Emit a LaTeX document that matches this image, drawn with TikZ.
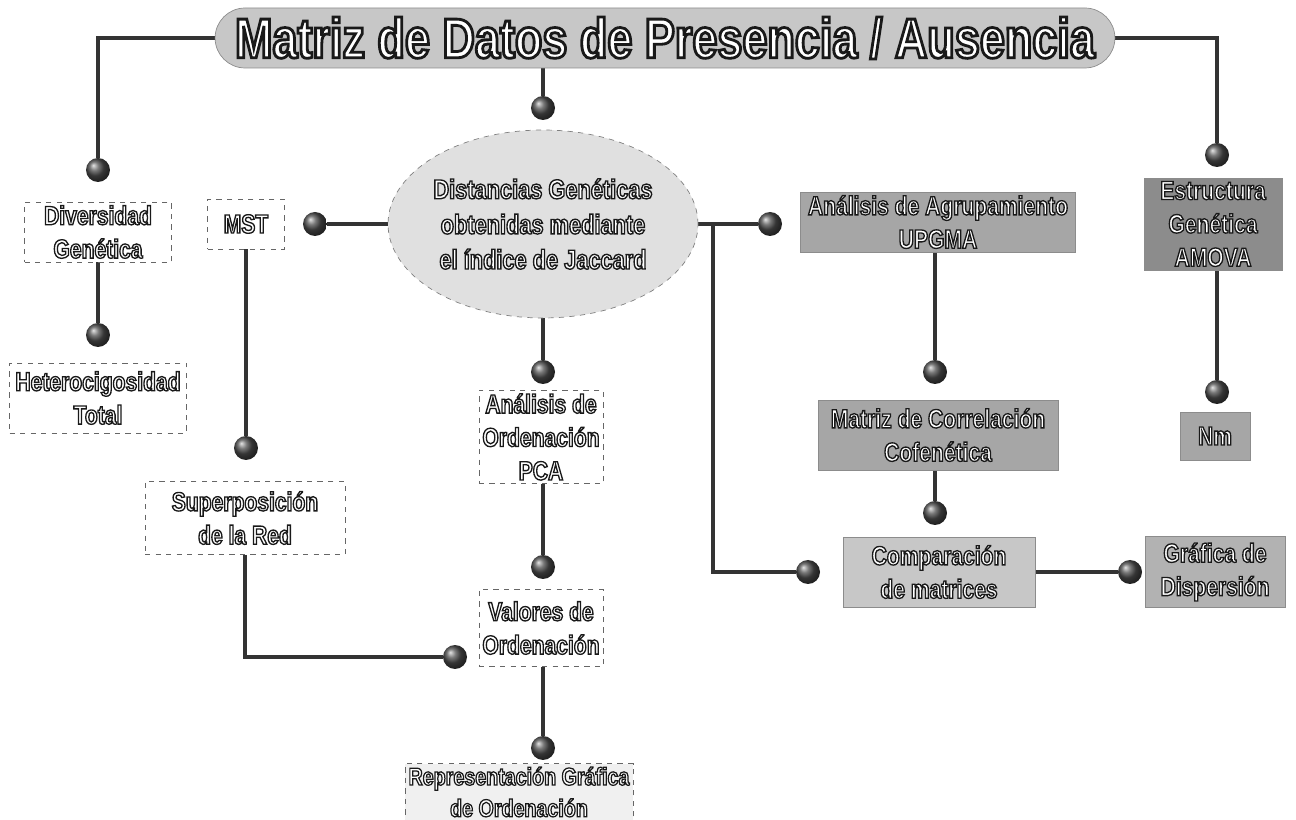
\documentclass[tikz,border=0pt]{standalone}
\usepackage{fontspec}
\setmainfont{Liberation Sans}[FakeStretch=0.8]
\newfontfamily\olfont{Liberation Sans Bold}[FakeStretch=0.8, FakeBold=5]
\usetikzlibrary{shapes.geometric,backgrounds}

% white letters with a dark rim: stroke colour set apart from the fill
\newcommand{\olt}{\special{pdf:code 0.1 G}}

\tikzset{
  boxwhite/.style={draw=black!60, dashed, fill=white, text=white, align=center, inner sep=2pt,
    font=\olfont\fontsize{15}{19}\selectfont},
  boxgray/.style={draw=black!45, fill=black!#1, text=white, align=center, inner sep=2pt,
    font=\olfont\fontsize{15}{19}\selectfont},
  ball/.style={circle, inner sep=0pt, minimum size=0.48cm, shading=ball, ball color=black!70},
  link/.style={line width=2.8pt, draw=black!80}
}

\begin{document}
\begin{tikzpicture}[x=0.02cm,y=-0.02cm]
\useasboundingbox (0,0) rectangle (1296,820);

% top row
\node[boxgray=22, rounded corners=0.6cm, minimum width=18cm, minimum height=1.2cm,
  font=\olfont\fontsize{32}{34}\selectfont] (title) at (665,38)
  {\olt Matriz de Datos de Presencia / Ausencia};

% left branch
\node[boxwhite, minimum width=2.94cm, minimum height=1.1cm] (div) at (98,232)
  {\olt Diversidad\\\olt Genética};
\node[boxwhite, minimum width=3.54cm, minimum height=1.4cm] (het) at (98,398)
  {\olt Heterocigosidad\\\olt Total};
\node[boxwhite, minimum width=1.54cm, minimum height=1.0cm] (mst) at (246,224) {\olt MST};
\node[boxwhite, minimum width=4.0cm, minimum height=1.46cm] (sup) at (245,518)
  {\olt Superposición\\\olt de la Red};

% centre column
\node[ellipse, draw=black!50, dashed, fill=black!12, text=white, align=center,
  minimum width=5.84cm, minimum height=3.76cm, inner sep=0pt,
  font=\olfont\fontsize{15.5}{20}\selectfont] (dist) at (543,224)
  {\olt Distancias Genéticas\\\olt obtenidas mediante\\\olt el índice de Jaccard};
\node[boxwhite, minimum width=2.36cm, minimum height=1.74cm] (pca) at (541,437)
  {\olt Análisis de\\\olt Ordenación\\\olt PCA};
\node[boxwhite, minimum width=2.36cm, minimum height=1.54cm] (val) at (541,628)
  {\olt Valores de\\\olt Ordenación};
\node[boxwhite, fill=black!6, minimum width=4.24cm, minimum height=1.1cm,
  font=\olfont\fontsize{14}{18}\selectfont] (rep) at (519,792)
  {\olt Representación Gráfica\\\olt de Ordenación};

% right side
\node[boxgray=35, minimum width=5.5cm, minimum height=1.1cm] (agr) at (938,222)
  {\olt Análisis de Agrupamiento\\\olt UPGMA};
\node[boxgray=35, minimum width=4.8cm, minimum height=1.4cm] (cor) at (938,435)
  {\olt Matriz de Correlación\\\olt Cofenética};
\node[boxgray=22, minimum width=3.84cm, minimum height=1.4cm] (com) at (939,572)
  {\olt Comparación\\\olt de matrices};
\node[boxgray=30, minimum width=2.8cm, minimum height=1.42cm] (gra) at (1215,572)
  {\olt Gráfica de\\\olt Dispersión};
\node[boxgray=45, minimum width=2.76cm, minimum height=1.84cm] (est) at (1213,224)
  {\olt Estructura\\\olt Genética\\\olt AMOVA};
\node[boxgray=35, minimum width=1.4cm, minimum height=0.96cm] (nm) at (1215,436) {\olt Nm};

% balls
\node[ball] (bdiv) at (98,170) {};
\node[ball] (bhet) at (98,335) {};
\node[ball] (best) at (1217,155) {};
\node[ball] (bnm) at (1217,392) {};
\node[ball] (bdist) at (543,108) {};
\node[ball] (bmst) at (315,224) {};
\node[ball] (bsup) at (246,448) {};
\node[ball] (bpca) at (543,372) {};
\node[ball] (bval) at (543,567) {};
\node[ball] (bvall) at (455,657) {};
\node[ball] (brep) at (543,748) {};
\node[ball] (bagr) at (770,224) {};
\node[ball] (bcor) at (935,372) {};
\node[ball] (bcom) at (935,513) {};
\node[ball] (bcoml) at (808,572) {};
\node[ball] (bgra) at (1130,572) {};

\coordinate (split) at (713,224);

\begin{scope}[on background layer]
\draw[link] (title.west) -| (bdiv);
\draw[link] (div.south) -- (bhet);
\draw[link] (title.east) -| (best);
\draw[link] (est.south -| bnm) -- (bnm);
\draw[link] (bdist |- title.south) -- (bdist);
\draw[link] (dist.west) -- (bmst);
\draw[link] (mst.south) -- (bsup);
\draw[link] (sup.south) |- (bvall);
\draw[link] (dist.south) -- (bpca);
\draw[link] (pca.south -| bval) -- (bval);
\draw[link] (val.south -| brep) -- (brep);
\draw[link] (dist.east) -- (bagr);
\draw[link] (split) |- (bcoml);
\draw[link] (agr.south -| bcor) -- (bcor);
\draw[link] (cor.south -| bcom) -- (bcom);
\draw[link] (com.east) -- (bgra);
\end{scope}
\end{tikzpicture}
\end{document}
